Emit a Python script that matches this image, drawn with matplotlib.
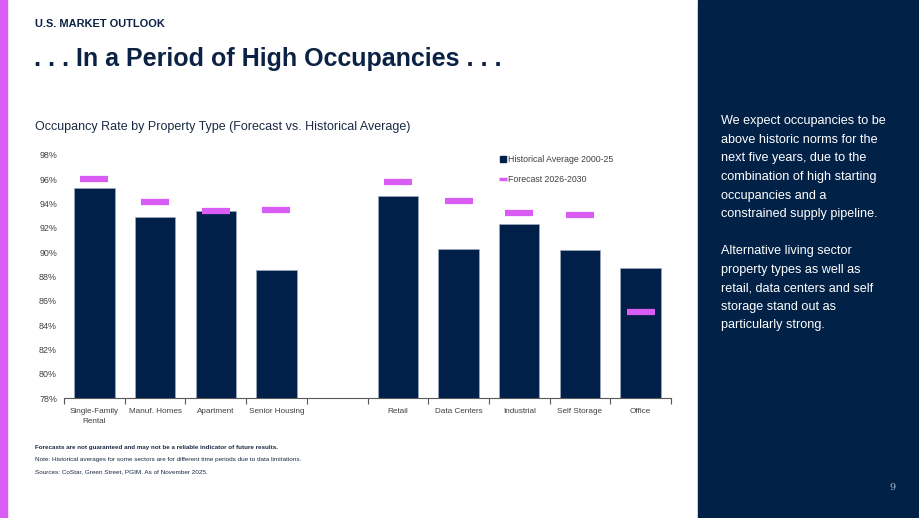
import matplotlib
matplotlib.use("Agg")
import matplotlib.pyplot as plt
from matplotlib.lines import Line2D
from matplotlib.patches import Rectangle
import numpy as np

plt.rcParams['font.family'] = ['Liberation Sans', 'DejaVu Sans']

# ---- data ----
categories = ["Single-Family\nRental", "Manuf. Homes", "Apartment", "Senior Housing", "",
              "Retail", "Data Centers", "Industrial", "Self Storage", "Office"]
historical = [95.3, 92.9, 93.4, 88.5, np.nan, 94.6, 90.3, 92.3, 90.2, 88.7]
forecast = [96.0, 94.1, 93.4, 93.5, np.nan, 95.8, 94.2, 93.2, 93.1, 85.1]
y_ticks = [78, 80, 82, 84, 86, 88, 90, 92, 94, 96, 98]
legend_labels = ["Historical Average 2000-25", "Forecast 2026-2030"]

NAVY = '#00204A'
PURPLE = '#D95CF5'
TXT = '#404040'

W, H = 920, 518
fig = plt.figure(figsize=(W / 100, H / 100), dpi=100)

# left purple strip and right navy panel
fig.patches.append(Rectangle((0, 0), 7 / W, 1, transform=fig.transFigure, color=PURPLE, zorder=0))
fig.patches.append(Rectangle((698 / W, 0), 1 - 698 / W, 1, transform=fig.transFigure, color='#012147', zorder=0))

def fx(x):
    return x / W

def fy(y):
    return 1 - y / H

# header
fig.text(fx(35), fy(24), "U.S. MARKET OUTLOOK", fontsize=7.9, fontweight='bold', color='#0B2245', va='center')
fig.text(fx(34), fy(59), ". . . In a Period of High Occupancies . . .", fontsize=18, fontweight='bold',
         color='#0B2245', va='center')
fig.text(fx(35), fy(127), "Occupancy Rate by Property Type (Forecast vs. Historical Average)", fontsize=9,
         color='#1B2A44', va='center')

# axes
ax = fig.add_axes([fx(64), fy(398), fx(671) - fx(64), (398 - 155) / H])
x = np.arange(len(categories))
ax.bar(x, np.array(historical) - 78, bottom=78, width=0.665, color=NAVY, edgecolor='#9AA6B8', linewidth=0.6, zorder=2)
ax.plot(x, forecast, linestyle='none', marker='_', markersize=19.5, markeredgewidth=4.5, color=PURPLE, zorder=3)

ax.set_xlim(-0.5, len(categories) - 0.5)
ax.set_ylim(78, 98)
ax.set_yticks(y_ticks)
ax.set_yticklabels([f"{v}%" for v in y_ticks])
ax.set_xticks(x)
ax.set_xticklabels(categories, linespacing=1.75)
ax.set_xticks(np.arange(-0.5, len(categories)), minor=True)
ax.tick_params(axis='x', which='major', length=0, pad=7, labelsize=5.9, labelcolor=TXT)
ax.tick_params(axis='x', which='minor', length=4, width=0.8, color='#595959', direction='out')
ax.tick_params(axis='y', length=0, pad=5, labelsize=6.4, labelcolor=TXT)
for s in ['top', 'right', 'left']:
    ax.spines[s].set_visible(False)
ax.spines['bottom'].set_color('#595959')
ax.spines['bottom'].set_linewidth(0.8)
ax.set_facecolor('none')

handles = [Line2D([], [], linestyle='none', marker='s', markersize=4.5, color=NAVY),
           Line2D([], [], linestyle='none', marker='_', markersize=6, markeredgewidth=2.5, color=PURPLE)]
leg = ax.legend(handles, legend_labels, loc='upper left', bbox_to_anchor=(fx(500), fy(155.5)),
                bbox_transform=fig.transFigure, frameon=False, fontsize=6.3, handlelength=0.6,
                handletextpad=0.3, labelspacing=1.2, borderpad=0, borderaxespad=0)
for t in leg.get_texts():
    t.set_color(TXT)

# footnotes
fig.text(fx(35), fy(447), "Forecasts are not guaranteed and may not be a reliable indicator of future results.",
         fontsize=4.5, fontweight='bold', color='#1B2A44', va='center')
fig.text(fx(35), fy(460), "Note: Historical averages for some sectors are for different time periods due to data limitations.",
         fontsize=4.6, color='#1B2A44', va='center')
fig.text(fx(35), fy(472), "Sources: CoStar, Green Street, PGIM. As of November 2025.",
         fontsize=4.6, color='#1B2A44', va='center')

# right panel text
para1 = ["We expect occupancies to be", "above historic norms for the", "next five years, due to the",
         "combination of high starting", "occupancies and a", "constrained supply pipeline."]
para2 = ["Alternative living sector", "property types as well as", "retail, data centers and self",
         "storage stand out as", "particularly strong."]
for i, line in enumerate(para1):
    fig.text(fx(721), fy(121 + i * 18.7), line, fontsize=9.1, color='white', va='center')
for i, line in enumerate(para2):
    fig.text(fx(721), fy(251 + i * 18.6), line, fontsize=9.1, color='white', va='center')

fig.text(fx(892), fy(488), "9", fontsize=7, color='#A9B4C6', ha='center', va='center', family='DejaVu Serif')

fig.savefig("out.png", dpi=100)
